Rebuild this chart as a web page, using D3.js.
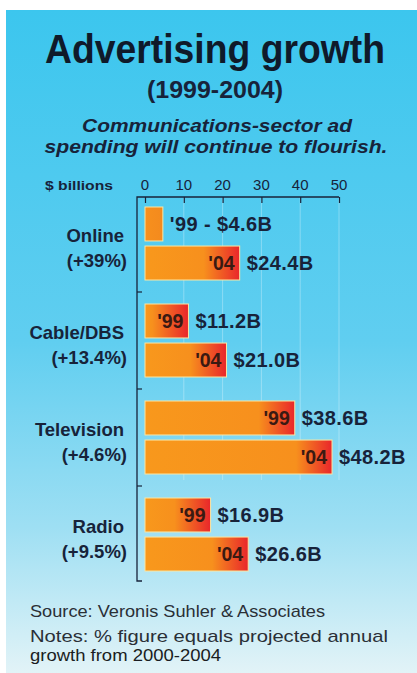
<!DOCTYPE html>
<html>
<head>
<meta charset="utf-8">
<script src="https://cdn.jsdelivr.net/npm/d3@7"></script>
<style>
  body { margin: 0; background: #fff; }
  svg { display: block; font-family: "Liberation Sans", Arial, sans-serif; }
</style>
</head>
<body>
<div id="chart"></div>
<script>
// chart data
const categories = ["Online", "Cable/DBS", "Television", "Radio"]
const growthLabels = ["(+39%)", "(+13.4%)", "(+4.6%)", "(+9.5%)"]
const years = ["'99", "'04"]
const values1999 = [4.6, 11.2, 38.6, 16.9]
const values2004 = [24.4, 21.0, 48.2, 26.6]
const tickValues = [0, 10, 20, 30, 40, 50]

const W = 417, H = 673
const ink = "#17233a"

const svg = d3.select("#chart")
  .append("svg")
    .attr("width", W)
    .attr("height", H)

const defs = svg.append("defs")

// background panel, blue fading to pale
const bg = defs.append("linearGradient")
    .attr("id", "bg").attr("x1", 0).attr("y1", 0).attr("x2", 0).attr("y2", 1)
bg.append("stop").attr("offset", "0%").attr("stop-color", "#3cc6ee")
bg.append("stop").attr("offset", "50%").attr("stop-color", "#60cef0")
bg.append("stop").attr("offset", "78%").attr("stop-color", "#9edff3")
bg.append("stop").attr("offset", "100%").attr("stop-color", "#e2f3f7")

svg.append("rect")
    .attr("x", 6).attr("y", 10)
    .attr("width", W - 6).attr("height", H - 10)
    .attr("fill", "url(#bg)")

// titles
svg.append("text")
    .attr("x", 215).attr("y", 63)
    .attr("text-anchor", "middle")
    .attr("font-size", 40).attr("font-weight", "bold")
    .attr("textLength", 340).attr("lengthAdjust", "spacingAndGlyphs")
    .attr("fill", "#0f1a2a")
    .text("Advertising growth")

svg.append("text")
    .attr("x", 215).attr("y", 98)
    .attr("text-anchor", "middle")
    .attr("font-size", 23).attr("font-weight", "bold")
    .attr("textLength", 136).attr("lengthAdjust", "spacingAndGlyphs")
    .attr("fill", ink)
    .text("(1999-2004)")

svg.append("text")
    .attr("x", 217).attr("y", 132)
    .attr("text-anchor", "middle")
    .attr("font-size", 19).attr("font-weight", "bold").attr("font-style", "italic")
    .attr("textLength", 270).attr("lengthAdjust", "spacingAndGlyphs")
    .attr("fill", ink)
    .text("Communications-sector ad")

svg.append("text")
    .attr("x", 216).attr("y", 153)
    .attr("text-anchor", "middle")
    .attr("font-size", 19).attr("font-weight", "bold").attr("font-style", "italic")
    .attr("textLength", 343).attr("lengthAdjust", "spacingAndGlyphs")
    .attr("fill", ink)
    .text("spending will continue to flourish.")

// scales
const x = d3.scaleLinear().domain([0, 50]).range([145, 339])
const y = d3.scaleBand().domain(categories).range([195, 583])
const yInner = d3.scaleBand().domain(years).range([12, 85]).paddingInner(0.13)

const frameLeft = 137, frameTop = 197, frameBottom = 581

// faint grid lines
svg.append("g")
  .selectAll("line")
  .data(tickValues.slice(1))
  .join("line")
    .attr("x1", d => x(d)).attr("x2", d => x(d))
    .attr("y1", frameTop).attr("y2", 480)
    .attr("stroke", "#ffffff").attr("stroke-opacity", 0.3)

// top axis
const axis = svg.append("g")
    .attr("transform", `translate(0,${frameTop})`)
    .call(d3.axisBottom(x).tickValues(tickValues).tickSize(6).tickFormat(""))
axis.select(".domain").remove()
axis.selectAll("line").attr("stroke", ink).attr("stroke-width", 1.2)

svg.append("g")
  .selectAll("text")
  .data(tickValues)
  .join("text")
    .attr("x", d => x(d)).attr("y", 190)
    .attr("text-anchor", "middle")
    .attr("font-size", 15)
    .attr("fill", ink)
    .text(d => d)

svg.append("text")
    .attr("x", 45).attr("y", 190)
    .attr("font-size", 13).attr("font-weight", "bold")
    .attr("textLength", 68).attr("lengthAdjust", "spacingAndGlyphs")
    .attr("fill", ink)
    .text("$ billions")

// frame
svg.append("path")
    .attr("d", `M${x(50)},${frameTop}H${frameLeft}V${frameBottom}H${frameLeft + 5}`)
    .attr("fill", "none")
    .attr("stroke", ink).attr("stroke-width", 1.3)

svg.append("g")
  .selectAll("line")
  .data(categories.slice(1))
  .join("line")
    .attr("x1", frameLeft).attr("x2", frameLeft + 5)
    .attr("y1", d => y(d)).attr("y2", d => y(d))
    .attr("stroke", ink).attr("stroke-width", 1.2)

// category labels
const catLabels = svg.append("g")
  .selectAll("text")
  .data(categories)
  .join("text")
    .attr("text-anchor", "end")
    .attr("font-size", 18.5).attr("font-weight", "bold")
    .attr("fill", ink)
catLabels.append("tspan")
    .attr("x", 124).attr("y", d => y(d) + 47)
    .text(d => d)
catLabels.append("tspan")
    .attr("x", 127).attr("y", d => y(d) + 72)
    .text((d, i) => growthLabels[i])

// bars
const barData = []
categories.forEach((c, i) => {
  barData.push({ cat: c, year: years[0], value: values1999[i] })
  barData.push({ cat: c, year: years[1], value: values2004[i] })
})

// orange bars that turn red near their ends
barData.forEach((d, i) => {
  const g = defs.append("linearGradient")
      .attr("id", "bar" + i)
      .attr("gradientUnits", "userSpaceOnUse")
      .attr("x1", x(0)).attr("x2", x(d.value)).attr("y1", 0).attr("y2", 0)
  const w = x(d.value) - x(0)
  const start = Math.max(0, 1 - 36 / w)
  g.append("stop").attr("offset", 0).attr("stop-color", "#f8981c")
  g.append("stop").attr("offset", start).attr("stop-color", "#f7901d")
  g.append("stop").attr("offset", 1).attr("stop-color", w < 30 ? "#f48a1e" : "#e9262b")
})

const bars = svg.append("g")
  .selectAll("g")
  .data(barData)
  .join("g")
    .attr("transform", d => `translate(0,${y(d.cat) + yInner(d.year)})`)

bars.append("rect")
    .attr("x", x(0))
    .attr("width", d => x(d.value) - x(0))
    .attr("height", yInner.bandwidth())
    .attr("fill", (d, i) => `url(#bar${i})`)
    .attr("stroke", "#fbe6a2").attr("stroke-width", 1)

const midY = yInner.bandwidth() / 2 + 7

// year inside the bar (online '99 is too short)
bars.filter(d => d.value > 8)
  .append("text")
    .attr("x", d => x(d.value) - 5).attr("y", midY)
    .attr("text-anchor", "end")
    .attr("font-size", 19.5).attr("font-weight", "bold")
    .attr("fill", "#3a1a12")
    .text(d => d.year)

bars.append("text")
    .attr("x", d => x(d.value) + 7).attr("y", midY)
    .attr("font-size", 20).attr("font-weight", "bold")
    .attr("letter-spacing", 0.4)
    .attr("fill", ink)
    .text(d => (d.value > 8 ? "" : d.year + " - ") + "$" + d.value.toFixed(1) + "B")

// notes
svg.append("text")
    .attr("x", 30).attr("y", 617)
    .attr("font-size", 17)
    .attr("textLength", 295).attr("lengthAdjust", "spacingAndGlyphs")
    .attr("fill", "#2a2f36")
    .text("Source: Veronis Suhler & Associates")

svg.append("text")
    .attr("x", 30).attr("y", 642)
    .attr("font-size", 17)
    .attr("textLength", 358).attr("lengthAdjust", "spacingAndGlyphs")
    .attr("fill", "#2a2f36")
    .text("Notes: % figure equals projected annual")

svg.append("text")
    .attr("x", 30).attr("y", 661)
    .attr("font-size", 17)
    .attr("textLength", 191).attr("lengthAdjust", "spacingAndGlyphs")
    .attr("fill", "#1a1d22")
    .text("growth from 2000-2004")
</script>
</body>
</html>
